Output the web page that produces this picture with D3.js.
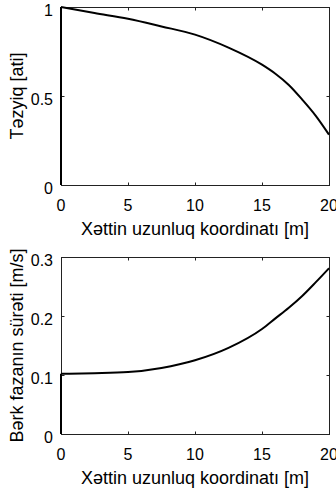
<!DOCTYPE html>
<html>
<head>
<meta charset="utf-8">
<script src="https://cdn.jsdelivr.net/npm/d3@7"></script>
<style>
  body { margin: 0; background: #fff; }
  svg { display: block; font-family: "Liberation Sans", Arial, sans-serif; }
</style>
</head>
<body>
<div id="chart"></div>
<script>
const xLabel = "Xəttin uzunluq koordinatı [m]";
const xTicks = [0, 5, 10, 15, 20];

// pressure along the line (first point is the jump at x = 0)
const pressureX = [0, 0, 2.5, 5, 7.5, 10, 12.5, 15, 16, 17, 18, 19, 20];
const pressureY = [0, 1.0, 0.966, 0.934, 0.891, 0.845, 0.772, 0.676, 0.625, 0.562, 0.48, 0.39, 0.283];
const pressureTicks = [0, 0.5, 1];

// solid phase velocity
const velocityX = [0, 0, 2.5, 5, 7.5, 10, 12.5, 15, 16, 17, 18, 19, 20];
const velocityY = [0, 0.102, 0.103, 0.105, 0.112, 0.125, 0.146, 0.178, 0.196, 0.214, 0.234, 0.257, 0.281];
const velocityTicks = [0, 0.1, 0.2, 0.3];

const width = 336;
const height = 491;

const svg = d3.select("#chart")
    .append("svg")
    .attr("width", width)
    .attr("height", height);

function panel(opts) {
    const x = d3.scaleLinear().domain([0, 20]).range([61, 329]);
    const y = d3.scaleLinear().domain(opts.yDomain).range([opts.bottom, opts.top]);
    const g = svg.append("g");
    const tickLen = 3;

    // box
    g.append("rect")
        .attr("x", 61.5).attr("y", opts.top + 0.5)
        .attr("width", 268).attr("height", opts.bottom - opts.top)
        .attr("fill", "none")
        .attr("stroke", "#222")
        .attr("stroke-width", 1);

    // inward ticks on all four sides
    xTicks.slice(1, -1).forEach(t => {
        const px = Math.round(x(t)) + 0.5;
        g.append("line").attr("x1", px).attr("x2", px)
            .attr("y1", opts.bottom + 0.5).attr("y2", opts.bottom + 0.5 - tickLen)
            .attr("stroke", "#222");
        g.append("line").attr("x1", px).attr("x2", px)
            .attr("y1", opts.top + 0.5).attr("y2", opts.top + 0.5 + tickLen)
            .attr("stroke", "#222");
    });
    opts.yTicks.slice(1, -1).forEach(t => {
        const py = Math.round(y(t)) + 0.5;
        g.append("line").attr("x1", 61.5).attr("x2", 61.5 + tickLen)
            .attr("y1", py).attr("y2", py).attr("stroke", "#222");
        g.append("line").attr("x1", 329.5).attr("x2", 329.5 - tickLen)
            .attr("y1", py).attr("y2", py).attr("stroke", "#222");
    });

    // tick labels
    g.selectAll(".xt")
        .data(xTicks)
        .enter()
        .append("text")
        .attr("x", d => x(d))
        .attr("y", opts.bottom + 26)
        .attr("text-anchor", "middle")
        .style("font-size", "16px")
        .text(d => d);

    g.selectAll(".yt")
        .data(opts.yTicks)
        .enter()
        .append("text")
        .attr("x", 53)
        .attr("y", d => y(d) + 8.5)
        .attr("text-anchor", "end")
        .style("font-size", "16px")
        .text(d => d);

    // axis titles
    g.append("text")
        .attr("x", (61 + 329) / 2)
        .attr("y", opts.bottom + 50)
        .attr("text-anchor", "middle")
        .style("font-size", "18px")
        .text(xLabel);

    g.append("text")
        .attr("transform", `translate(23, ${(opts.top + opts.bottom) / 2}) rotate(-90)`)
        .attr("text-anchor", "middle")
        .style("font-size", "18px")
        .text(opts.yLabel);

    // curve: vertical jump at x = 0, then a smooth run
    const pts = d3.zip(opts.xs, opts.ys);
    const jump = d3.line().x(d => x(d[0])).y(d => y(d[1]));
    const smooth = d3.line().x(d => x(d[0])).y(d => y(d[1])).curve(d3.curveMonotoneX);

    [jump(pts.slice(0, 2)), smooth(pts.slice(1))].forEach(d => {
        g.append("path")
            .attr("d", d)
            .attr("fill", "none")
            .attr("stroke", "#000")
            .attr("stroke-width", 2)
            .attr("stroke-linejoin", "round");
    });
}

panel({
    top: 7, bottom: 185,
    yDomain: [0, 1], yTicks: pressureTicks,
    xs: pressureX, ys: pressureY,
    yLabel: "Təzyiq [ati]"
});

panel({
    top: 257, bottom: 434,
    yDomain: [0, 0.3], yTicks: velocityTicks,
    xs: velocityX, ys: velocityY,
    yLabel: "Bərk fazanın sürəti [m/s]"
});
</script>
</body>
</html>
